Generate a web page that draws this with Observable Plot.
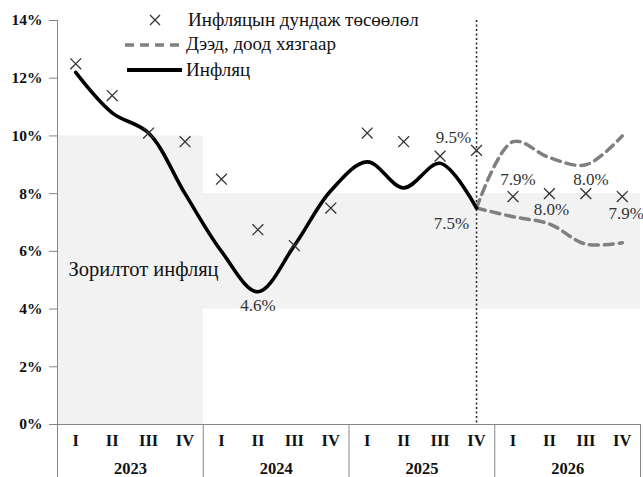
<!DOCTYPE html>
<html><head><meta charset="utf-8">
<script src="https://cdn.jsdelivr.net/npm/d3@7"></script>
<script src="https://cdn.jsdelivr.net/npm/@observablehq/plot@0.6"></script>
<style>
body{margin:0;background:#fff;font-family:'Liberation Serif',serif;}
#wrap{position:relative;width:643px;height:477px;font-family:'Liberation Serif',serif;}
#legend{position:absolute;left:0;top:0;pointer-events:none;}
</style></head><body><div id="wrap"></div>
<script>
// ---- data ----
const years = ["2023","2024","2025","2026"];
const quarters = ["I","II","III","IV"];
const yTicks = [0,2,4,6,8,10,12,14];
// actual inflation (2023 Q1 .. 2025 Q4)
const inflation = [12.2,10.8,10.1,8.0, 6.0,4.6,6.2,8.1, 9.1,8.2,9.05,7.5];
// average inflation expectation (2023 Q1 .. 2026 Q4)
const expectation = [12.5,11.4,10.1,9.8, 8.5,6.75,6.2,7.5, 10.1,9.8,9.3,9.5, 7.9,8.0,8.0,7.9];
// upper / lower bounds (2025 Q4 .. 2026 Q4)
const upperBound = [7.5,9.8,9.25,9.0,10.0];
const lowerBound = [7.5,7.2,6.95,6.25,6.3];
// target band: first quarter index, end quarter index, low, high
const bandStart = [0,4];
const bandEnd = [4,16];
const bandLow = [0,4];
const bandHigh = [10,8];
const legendLabels = ["Инфляцын дундаж төсөөлөл","Дээд, доод хязгаар","Инфляц"];
const bandLabel = "Зорилтот инфляц";

// ---- build ----
const FF = "Liberation Serif";
const nQ = years.length*quarters.length;
const qIdx = d3.range(nQ);
const qLabels = years.flatMap(()=>quarters);
const infl = inflation.map((v,i)=>({i,v}));
const expt = expectation.map((v,i)=>({i,v}));
const f0 = inflation.length-1;
const up = upperBound.map((v,k)=>({i:f0+k,v}));
const lo = lowerBound.map((v,k)=>({i:f0+k,v}));
const band = bandStart.map((s,k)=>({x1:s-0.5,x2:bandEnd[k]-0.5,y1:bandLow[k],y2:bandHigh[k]}));
const yearBounds = d3.range(years.length+1).map(k=>k*4-0.5);
const fmt = v=>v.toFixed(1)+"%";

const W=643,H=477,mT=20,mB=53,mL=57,mR=3;
const labelCol="#333", gridCol="#868686";
const lbl = (data, dx, dy) => Plot.text(data,{x:"i",y:"v",text:d=>fmt(d.v),dx,dy,fontSize:17,fill:labelCol,fontFamily:FF});

const chart = Plot.plot({
  width:W,height:H,marginTop:mT,marginBottom:mB,marginLeft:mL,marginRight:mR,
  style:{fontFamily:FF,fontSize:"15px",background:"#fff",color:"#111",overflow:"visible"},
  x:{type:"linear",domain:[-0.5,nQ-0.5],axis:null},
  y:{domain:[0,14],axis:null},
  marks:[
    Plot.rectY(band,{x1:"x1",x2:"x2",y1:"y1",y2:"y2",fill:"#f2f2f2"}),
    Plot.text([bandLabel],{frameAnchor:"left",dx:11,dy:47,textAnchor:"start",fontSize:20.5,fill:"#111",fontFamily:FF}),
    Plot.ruleX([f0],{stroke:"#222",strokeWidth:1.5,strokeDasharray:"2,2.5"}),
    Plot.line(up,{x:"i",y:"v",curve:"catmull-rom",stroke:"#808080",strokeWidth:3.5,strokeDasharray:"9,6"}),
    Plot.line(lo,{x:"i",y:"v",curve:"catmull-rom",stroke:"#808080",strokeWidth:3.5,strokeDasharray:"9,6"}),
    Plot.line(infl,{x:"i",y:"v",curve:"catmull-rom",stroke:"#000",strokeWidth:3.6}),
    Plot.dot(expt,{x:"i",y:"v",symbol:"times",r:5,stroke:"#333",strokeWidth:1.3}),
    lbl([infl[5]],0,14),
    lbl([infl[11]],-25,15),
    lbl([expt[11]],-23,-13),
    lbl([expt[12]],5,-17),
    lbl([expt[13]],2,16),
    lbl([expt[14]],5,-14),
    lbl([expt[15]],4,17),
    Plot.ruleX([-0.5],{stroke:gridCol,insetBottom:-mB}),
    Plot.ruleY([0],{stroke:gridCol}),
    Plot.ruleX(yearBounds,{stroke:gridCol,insetTop:H-mT-mB,insetBottom:-mB}),
    Plot.axisY(yTicks,{tickFormat:d=>d+"%",tickSize:8,tickPadding:7,fontWeight:"bold",stroke:gridCol,fill:"#111",fontSize:15.5,fontFamily:FF}),
    Plot.text(qIdx,{x:d=>d,y:()=>0,text:d=>qLabels[d],dy:16,fontWeight:"bold",fontSize:16.5,fill:"#111",fontFamily:FF}),
    Plot.text(years,{x:(d,i)=>i*4+1.5,y:()=>0,text:d=>d,dy:44,fontWeight:"bold",fontSize:16.5,fill:"#111",fontFamily:FF})
  ]
});
const wrap=document.getElementById("wrap");
wrap.appendChild(chart);

// legend overlay
const ns="http://www.w3.org/2000/svg";
const lg=document.createElementNS(ns,"svg");
lg.setAttribute("id","legend");lg.setAttribute("width",W);lg.setAttribute("height",90);
const sym=[
 `<path d="M150,15L160,25M160,15L150,25" stroke="#333" stroke-width="1.3"/>`,
 `<line x1="125" y1="45" x2="183" y2="45" stroke="#808080" stroke-width="3.5" stroke-dasharray="9,6"/>`,
 `<line x1="127" y1="70" x2="182" y2="70" stroke="#000" stroke-width="4"/>`];
lg.innerHTML=sym.join("");
const tx=[[188,26],[186,50],[186,76]];
legendLabels.forEach((s,k)=>{
  const t=document.createElementNS(ns,"text");
  t.setAttribute("x",tx[k][0]);t.setAttribute("y",tx[k][1]);
  t.setAttribute("style","font-family:'Liberation Serif',serif;font-size:19px;fill:#111");
  t.textContent=s;lg.appendChild(t);
});
wrap.appendChild(lg);
</script></body></html>
